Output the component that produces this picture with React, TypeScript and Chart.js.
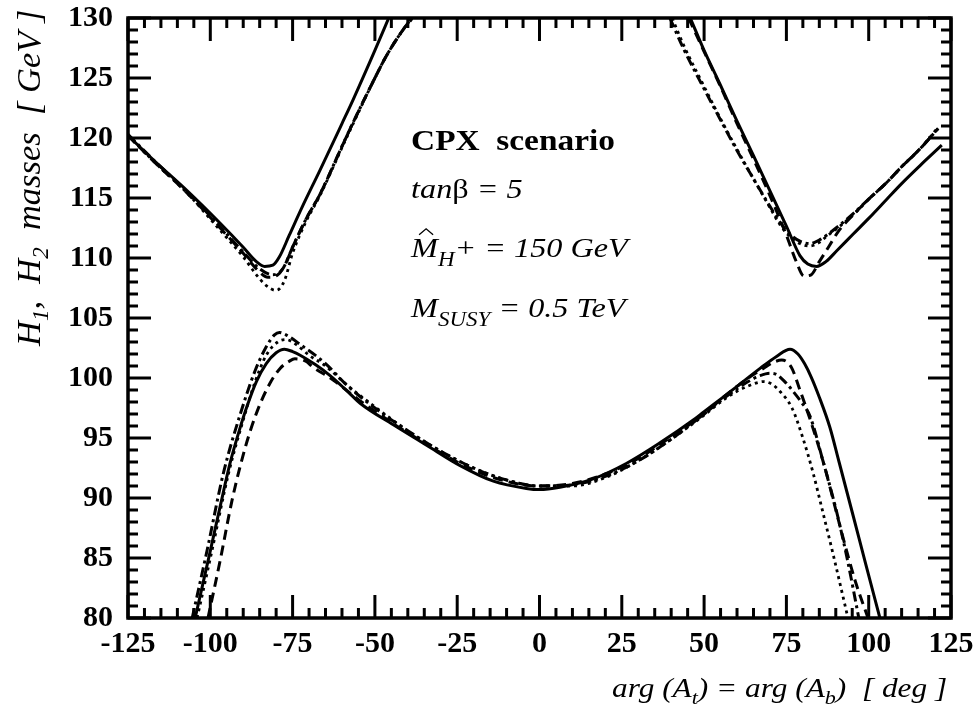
import React, { useEffect, useRef } from 'react';
import { Chart, registerables } from 'chart.js';

Chart.register(...registerables);

// ---------- axis ranges / ticks ----------
const X_MIN = -125;
const X_MAX = 125;
const X_STEP = 25;
const X_MINOR = 5;
const Y_MIN = 80;
const Y_MAX = 130;
const Y_STEP = 5;
const Y_MINOR = 1;

type P = [number, number];

// ---------- H2 (upper) branches ----------
const SOLID_H2_LEFT: P[] = [[-125,120.2],[-117,118.1],[-107,115.6],[-97,112.9],[-90,110.9],[-86,109.7],[-83.5,109.3],[-81,109.4],[-79,110.1],[-76,111.9],[-72,114.3],[-66.7,117.3],[-60,121.2],[-56.6,123.2],[-50,127.3],[-45.8,130]];
const SOLID_H2_RIGHT: P[] = [[45.8,130],[50,127.3],[54.8,124.5],[60,121.4],[64.9,118.6],[70,115.6],[75.1,112.6],[79.1,110.2],[81.5,109.5],[84.2,109.3],[87,109.7],[90.3,110.6],[95.3,112.0],[100,113.3],[105.5,114.9],[110,116.2],[115.6,117.7],[122.2,119.4]];
const DASHED_H2_LEFT: P[] = [[-125,120.2],[-117,118.0],[-107,115.4],[-97,112.5],[-90,110.4],[-86,109.1],[-82.5,108.4],[-79.5,108.6],[-77,109.6],[-75,110.9],[-71,113.2],[-66.7,115.3],[-60,119.3],[-56.6,121.3],[-50,125.0],[-46.4,126.9],[-42,128.8],[-38.8,130]];
const DASHED_H2_RIGHT: P[] = [[45.3,130],[50,127.2],[54.8,124.4],[60,121.2],[64.9,118.3],[70,115.2],[75,111.9],[78,109.7],[80.3,108.5],[82.5,108.6],[85,109.7],[88,111.0],[91,112.3],[95.3,113.6],[100,114.9],[105.5,116.3],[110,117.6],[115.6,119.1],[121.1,120.8]];
const DOTTED_H2_LEFT: P[] = [[-125,120.2],[-117,118.0],[-107,115.4],[-97,112.3],[-90,110.1],[-86,108.6],[-83,107.7],[-80,107.3],[-77.5,108.1],[-75,110.4],[-71,113.0],[-66.7,115.2],[-60,119.2],[-56.6,121.2],[-50,125.0],[-46.4,126.9],[-42,128.8],[-38.5,130]];
const DOTTED_H2_RIGHT: P[] = [[40.3,130],[44,127.6],[49.8,124.4],[55,121.6],[59.9,119.1],[65,116.6],[70,114.2],[73,112.8],[76,111.8],[79.1,111.2],[82.2,111.0],[85,111.3],[87.2,111.8],[91,112.6],[95.3,113.6],[100,114.9],[105.5,116.3],[110,117.6],[115.6,119.1],[121.1,120.9]];
const DASHDOT_H2_LEFT: P[] = [[-125,120.3],[-117,118.1],[-107,115.5],[-97,112.6],[-90,110.5],[-85,109.1],[-81,108.6],[-78,109.1],[-75,110.9],[-71,113.2],[-66.7,115.3],[-60,119.3],[-56.6,121.3],[-50,125.0],[-46.4,126.9],[-42,128.8],[-38.8,130]];
const DASHDOT_H2_RIGHT: P[] = [[39.6,130],[44,127.3],[49.8,124.2],[55,121.5],[59.9,119.0],[65,116.6],[70,114.3],[73,113.0],[76,112.0],[79.1,111.4],[82.2,111.2],[85,111.5],[87.2,111.9],[91,112.7],[95.3,113.7],[100,114.9],[105.5,116.3],[110,117.6],[115.6,119.1],[121.1,120.8]];

// ---------- H1 (lower) branches ----------
const SOLID_H1: P[] = [[-104.6,80],[-100,85.6],[-97,89.3],[-94,92.9],[-91,95.8],[-88.9,97.6],[-86,99.7],[-83,101.2],[-80,102.1],[-77.5,102.4],[-75,102.2],[-72.7,101.9],[-68,101.1],[-63.6,100.2],[-58,98.8],[-54.5,97.9],[-44.4,96.1],[-34.3,94.4],[-24.1,92.7],[-14,91.4],[-4,90.8],[0,90.7],[6.2,90.9],[16.3,91.6],[26.5,92.9],[36.6,94.6],[46.7,96.5],[50,97.2],[54.8,98.2],[60,99.3],[67,100.8],[72,101.8],[76.1,102.4],[78.5,102.0],[80.5,101.2],[82.5,100.1],[85,98.4],[88.2,95.9],[91,93.0],[95.3,88.5],[99,84.6],[103.4,80]];
const DASHED_H1: P[] = [[-100.7,80],[-97,84.8],[-93.4,89.8],[-89.5,94.1],[-85.8,97.2],[-82,99.5],[-78.8,100.8],[-76,101.4],[-74.3,101.6],[-71,101.4],[-68.8,100.9],[-63,99.9],[-55,98.2],[-45,96.3],[-35,94.6],[-25,93.0],[-15,91.8],[-5,91.1],[0,91.0],[10,91.2],[20,92.0],[30,93.3],[40,95.1],[50,97.0],[55,98.2],[60,99.3],[65,100.3],[68,100.8],[71,101.3],[73.6,101.5],[76.5,100.9],[79.1,99.0],[82.5,96.3],[86.2,93.0],[92.3,86.6],[96,83.0],[99.8,80]];
const DOTTED_H1: P[] = [[-104.0,80],[-99.5,85.6],[-94.5,92.0],[-90,96.5],[-86.5,99.6],[-83,101.9],[-79.5,103.0],[-77,103.2],[-74,102.8],[-70,101.9],[-65,101.0],[-58,99.3],[-50,97.6],[-40,95.6],[-30,93.9],[-20,92.5],[-10,91.5],[0,91.0],[10,91.0],[20,91.7],[30,93.1],[40,94.9],[50,96.9],[55,98.0],[60,98.9],[64,99.4],[66,99.6],[68,99.7],[70.5,99.5],[73,98.9],[76.7,97.5],[80,95.0],[83.1,92.1],[86,88.9],[89.2,85.3],[93.7,80]];
const DASHDOT_H1: P[] = [[-105.5,80],[-101,85.6],[-96,92.1],[-91,96.9],[-86.4,100.6],[-83,102.6],[-80.5,103.6],[-79,103.8],[-77,103.6],[-72.7,102.8],[-65,101.2],[-58.5,99.4],[-50.5,97.6],[-40,95.6],[-30,93.9],[-20,92.5],[-10,91.5],[0,91.0],[10,91.1],[20,91.8],[30,93.1],[40,94.9],[50,97.0],[55,98.1],[60,99.1],[64,99.8],[67,100.2],[70,100.4],[72,100.3],[74.5,99.7],[77,98.9],[79.5,98.0],[82.2,96.8],[86,93.2],[90.3,88.8],[93.5,84.9],[97.0,80]];

// ---------- line styles ----------
const STYLE_SOLID: number[] = [];
const STYLE_DASHED: number[] = [10, 6];
const STYLE_DOTTED: number[] = [3, 4];
const STYLE_DASHDOT: number[] = [10, 4, 3, 4];

const FONT = '"Liberation Serif", "Times New Roman", serif';

const toXY = (pts: P[]) => pts.map(([x, y]) => ({ x, y }));

function mkDataset(pts: P[], dash: number[], width: number) {
  return {
    data: toXY(pts),
    borderColor: '#000',
    backgroundColor: '#000',
    borderWidth: width,
    borderDash: dash,
    borderCapStyle: 'butt' as const,
    borderJoinStyle: 'round' as const,
    pointRadius: 0,
    pointHoverRadius: 0,
    fill: false,
    cubicInterpolationMode: 'monotone' as const,
    spanGaps: false,
  };
}

type Seg = { t: string; f: string; dy?: number };

function drawRich(ctx: CanvasRenderingContext2D, segs: Seg[], x: number, y: number, sx = 1, rot = 0) {
  ctx.save();
  ctx.translate(x, y);
  if (rot) ctx.rotate(rot);
  ctx.scale(sx, 1);
  ctx.textBaseline = 'alphabetic';
  ctx.textAlign = 'left';
  let cx = 0;
  for (const s of segs) {
    ctx.font = s.f;
    ctx.fillText(s.t, cx, s.dy || 0);
    cx += ctx.measureText(s.t).width;
  }
  ctx.restore();
}

const framePlugin = {
  id: 'frameTicks',
  afterDatasetsDraw(chart: any) {
    const { ctx, chartArea: a, scales } = chart;
    const xs = scales.x;
    const ys = scales.y;
    ctx.save();
    ctx.strokeStyle = '#000';
    ctx.lineCap = 'butt';
    ctx.lineWidth = 3;
    const seg = (x1: number, y1: number, x2: number, y2: number) => {
      ctx.beginPath();
      ctx.moveTo(x1, y1);
      ctx.lineTo(x2, y2);
      ctx.stroke();
    };
    for (let v = X_MIN; v <= X_MAX + 1e-9; v += X_MINOR) {
      const px = xs.getPixelForValue(v);
      const major = Math.abs(v % X_STEP) < 1e-9;
      const len = major ? 23 : 10;
      seg(px, a.bottom, px, a.bottom - len);
      seg(px, a.top, px, a.top + len);
    }
    for (let v = Y_MIN; v <= Y_MAX + 1e-9; v += Y_MINOR) {
      const py = ys.getPixelForValue(v);
      const major = Math.abs(v % Y_STEP) < 1e-9;
      const len = major ? 23 : 10;
      seg(a.left, py, a.left + len, py);
      seg(a.right, py, a.right - len, py);
    }
    ctx.lineWidth = 3.5;
    ctx.strokeRect(a.left, a.top, a.right - a.left, a.bottom - a.top);
    ctx.restore();
  },
  afterDraw(chart: any) {
    const { ctx, chartArea: a, scales } = chart;
    const xs = scales.x;
    const ys = scales.y;
    ctx.save();
    ctx.fillStyle = '#000';
    const bold = (s: number) => `bold ${s}px ${FONT}`;
    const ital = (s: number) => `italic ${s}px ${FONT}`;
    const up = (s: number) => `${s}px ${FONT}`;
    const tx = xs.getPixelForValue(-39);
    const sx = 1.15;

    drawRich(ctx, [{ t: 'CPX  scenario', f: bold(29) }], tx, ys.getPixelForValue(119), sx);
    drawRich(ctx, [
      { t: 'tan', f: ital(28) },
      { t: 'β', f: up(28) },
      { t: ' = 5', f: ital(28) },
    ], tx, ys.getPixelForValue(115), sx);
    const y3 = ys.getPixelForValue(110.1);
    drawRich(ctx, [
      { t: 'M', f: ital(28) },
      { t: 'H', f: ital(20), dy: 9 },
      { t: '+ = 150 GeV', f: ital(28) },
    ], tx, y3, sx);
    // hat over M
    ctx.lineWidth = 1.3;
    ctx.strokeStyle = '#000';
    ctx.beginPath();
    ctx.moveTo(tx + 8, y3 - 22);
    ctx.lineTo(tx + 15, y3 - 28);
    ctx.lineTo(tx + 22, y3 - 22);
    ctx.stroke();
    drawRich(ctx, [
      { t: 'M', f: ital(28) },
      { t: 'SUSY', f: ital(20), dy: 9 },
      { t: ' = 0.5 TeV', f: ital(28) },
    ], tx, ys.getPixelForValue(105.1), sx);

    // y axis title (rotated)
    drawRich(ctx, [
      { t: 'H', f: ital(34.5) },
      { t: '1', f: ital(23), dy: 8 },
      { t: ',  H', f: ital(34.5) },
      { t: '2', f: ital(23), dy: 8 },
      { t: '  masses  [ GeV ]', f: ital(34.5) },
    ], 40, a.top + 328, 1, -Math.PI / 2);

    // x axis title
    drawRich(ctx, [
      { t: 'arg (A', f: ital(27) },
      { t: 't', f: ital(19), dy: 7 },
      { t: ') = arg (A', f: ital(27) },
      { t: 'b', f: ital(19), dy: 7 },
      { t: ')  [ deg ]', f: ital(27) },
    ], 612, 697, 1.16);
    ctx.restore();
  },
};

export default function App() {
  const ref = useRef<HTMLCanvasElement | null>(null);

  useEffect(() => {
    if (!ref.current) return;
    const W = 3;
    const chart = new Chart(ref.current, {
      type: 'line',
      data: {
        datasets: [
          mkDataset(DOTTED_H2_LEFT, STYLE_DOTTED, 2.8),
          mkDataset(DOTTED_H2_RIGHT, STYLE_DOTTED, 2.8),
          mkDataset(DOTTED_H1, STYLE_DOTTED, 2.8),
          mkDataset(DASHDOT_H2_LEFT, STYLE_DASHDOT, W),
          mkDataset(DASHDOT_H2_RIGHT, STYLE_DASHDOT, W),
          mkDataset(DASHDOT_H1, STYLE_DASHDOT, W),
          mkDataset(DASHED_H2_LEFT, STYLE_DASHED, W),
          mkDataset(DASHED_H2_RIGHT, STYLE_DASHED, W),
          mkDataset(DASHED_H1, STYLE_DASHED, W),
          mkDataset(SOLID_H2_LEFT, STYLE_SOLID, W),
          mkDataset(SOLID_H2_RIGHT, STYLE_SOLID, W),
          mkDataset(SOLID_H1, STYLE_SOLID, W),
        ],
      },
      options: {
        animation: false,
        responsive: true,
        maintainAspectRatio: false,
        layout: { autoPadding: false, padding: { left: 0, top: 18, right: 26, bottom: 0 } },
        plugins: {
          legend: { display: false },
          tooltip: { enabled: false },
          title: { display: false },
        },
        events: [],
        scales: {
          x: {
            type: 'linear',
            min: X_MIN,
            max: X_MAX,
            grid: { display: false, drawTicks: false },
            border: { display: false },
            ticks: {
              stepSize: X_STEP,
              autoSkip: false,
              maxRotation: 0,
              padding: 8,
              color: '#000',
              font: { family: FONT, size: 30, weight: 'bold' },
              callback: (v: any) => String(v),
            },
            afterFit: (s: any) => { s.height = 93; s.paddingLeft = 0; s.paddingRight = 0; },
          },
          y: {
            type: 'linear',
            min: Y_MIN,
            max: Y_MAX,
            grid: { display: false, drawTicks: false },
            border: { display: false },
            ticks: {
              stepSize: Y_STEP,
              autoSkip: false,
              padding: 15,
              color: '#000',
              font: { family: FONT, size: 30, weight: 'bold', lineHeight: 0.6 },
              callback: (v: any) => String(v),
            },
            afterFit: (s: any) => { s.width = 128; s.paddingTop = 0; s.paddingBottom = 0; },
          },
        },
      } as any,
      plugins: [framePlugin],
    });
    return () => chart.destroy();
  }, []);

  return (
    <div style={{ position: 'fixed', left: 0, top: 0, width: 977, height: 711, background: '#fff' }}>
      <canvas ref={ref} />
    </div>
  );
}
